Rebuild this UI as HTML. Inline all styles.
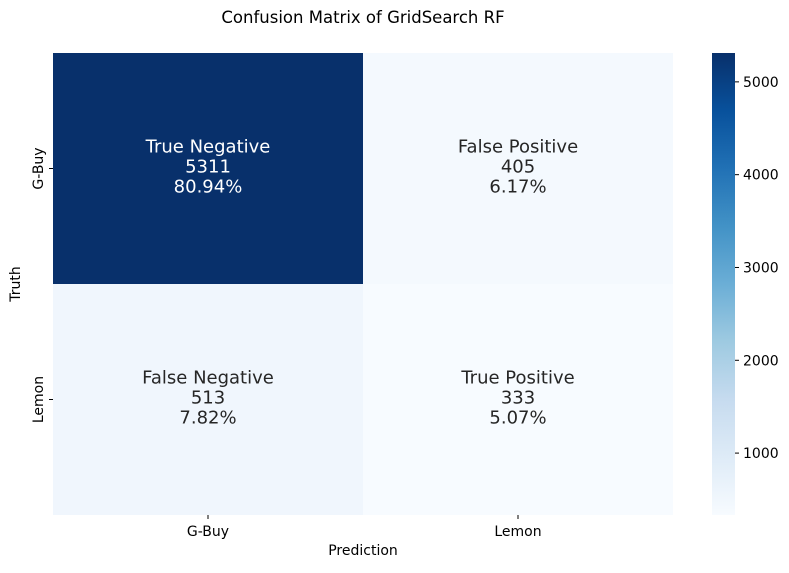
<!DOCTYPE html>
<html><head><meta charset="utf-8"><style>
body{margin:0;background:#fff;font-family:"Liberation Sans","DejaVu Sans",sans-serif;}
</style></head><body>
<svg width="789" height="568" xmlns="http://www.w3.org/2000/svg" font-family="DejaVu Sans, Liberation Sans, sans-serif">
<defs><linearGradient id="blues" x1="0" y1="1" x2="0" y2="0">
<stop offset="0" stop-color="#f7fbff"/><stop offset="0.125" stop-color="#deebf7"/><stop offset="0.25" stop-color="#c6dbef"/><stop offset="0.375" stop-color="#9ecae1"/><stop offset="0.5" stop-color="#6baed6"/><stop offset="0.625" stop-color="#4292c6"/><stop offset="0.75" stop-color="#2171b5"/><stop offset="0.875" stop-color="#08519c"/><stop offset="1" stop-color="#08306b"/>
</linearGradient></defs>
<text x="363" y="23" font-size="16.5" text-anchor="middle">Confusion Matrix of GridSearch RF</text>
<g id="cells"></g>
<rect x="712" y="53" width="23" height="462" fill="url(#blues)"/>
<g id="cbticks" font-size="14"></g>
<g id="axes" font-size="14"></g>
<text x="363" y="555" font-size="14" text-anchor="middle">Prediction</text>
<text transform="translate(20,284) rotate(-90)" font-size="14" text-anchor="middle">Truth</text>
</svg>
<script>
const categories=["G-Buy","Lemon"];
const labels=[["True Negative","False Positive"],["False Negative","True Positive"]];
const values=[[5311,405],[513,333]];
const cbTicks=[1000,2000,3000,4000,5000];
const NS="http://www.w3.org/2000/svg";
const L=53,T=53,W=620,H=462;
const flat=values.flat();const vmin=Math.min(...flat),vmax=Math.max(...flat);
const total=flat.reduce((a,b)=>a+b,0);
const stops=[[0,[247,251,255]],[.125,[222,235,247]],[.25,[198,219,239]],[.375,[158,202,225]],[.5,[107,174,214]],[.625,[66,146,198]],[.75,[33,113,181]],[.875,[8,81,156]],[1,[8,48,107]]];
function color(v){let t=(v-vmin)/(vmax-vmin);for(let i=1;i<stops.length;i++){if(t<=stops[i][0]){const a=stops[i-1],b=stops[i];const f=(t-a[0])/(b[0]-a[0]);return {c:"rgb("+a[1].map((x,k)=>Math.round(x+(b[1][k]-x)*f)).join(",")+")",t};}}return {c:"rgb(8,48,107)",t:1};}
function el(n,a,p){const e=document.createElementNS(NS,n);for(const k in a)e.setAttribute(k,a[k]);p.appendChild(e);return e;}
const cells=document.getElementById('cells');const n=categories.length;const cw=W/n,ch=H/n;
for(let r=0;r<n;r++)for(let c=0;c<n;c++){const v=values[r][c];const col=color(v);
const rc=el('rect',{x:L+c*cw,y:T+r*ch,width:cw,height:ch,fill:col.c},cells);


const fill=col.t>0.5?"#fff":"#262626";const cx=L+(c+.5)*cw,cy=T+(r+.5)*ch;
const lines=[labels[r][c],String(v),(v/total*100).toFixed(2)+"%"];
lines.forEach((s,i)=>{const tx=el('text',{x:cx,y:cy-16+i*20,'font-size':18,'text-anchor':'middle',fill:fill},cells);tx.textContent=s;

});}
const ax=document.getElementById('axes');
categories.forEach((cat,i)=>{const x=L+(i+.5)*cw;el('line',{x1:x,x2:x,y1:T+H,y2:T+H+4,stroke:'#000'},ax);
const t=el('text',{x:x,y:T+H+21,'text-anchor':'middle'},ax);t.textContent=cat;


const y=T+(i+.5)*ch;el('line',{x1:L-4,x2:L,y1:y,y2:y,stroke:'#000'},ax);
const t2=el('text',{transform:`translate(${L-10},${y}) rotate(-90)`,'text-anchor':'middle'},ax);t2.textContent=cat;

});
const cb=document.getElementById('cbticks');
cbTicks.forEach(v=>{const y=T+H-(v-vmin)/(vmax-vmin)*H;el('line',{x1:735,x2:739,y1:y,y2:y,stroke:'#000'},cb);
const t=el('text',{x:743,y:y+5},cb);t.textContent=v;

});
</script>
</body></html>
